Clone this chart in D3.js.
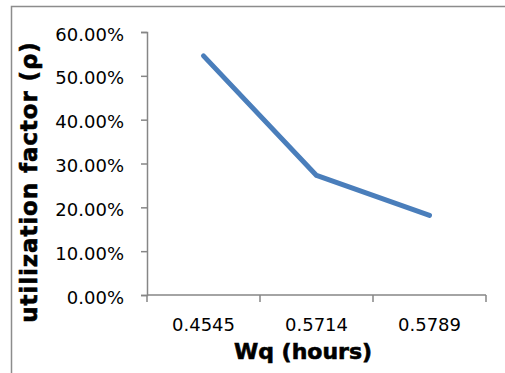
<!DOCTYPE html>
<html>
<head>
<meta charset="utf-8">
<script src="https://cdn.jsdelivr.net/npm/d3@7"></script>
<style>
  body { margin: 0; background: #fff; }
  svg { display: block; }
</style>
</head>
<body>
<div id="holder"></div>
<script>
const w = 505;
const h = 373;

// data
const categories = ["0.4545", "0.5714", "0.5789"];
const utilization = [0.5455, 0.2727, 0.1818];
const yTicks = [0, 0.1, 0.2, 0.3, 0.4, 0.5, 0.6];

const axisColor = "#868686";
const font = "'DejaVu Sans', sans-serif";

const svg = d3.select("#holder")
    .append("svg")
    .attr("width", w)
    .attr("height", h)

// outer chart frame (cut off at right and bottom)
svg.append("rect")
    .attr("x", 11.5)
    .attr("y", 6.5)
    .attr("width", 700)
    .attr("height", 700)
    .attr("fill", "none")
    .attr("stroke", "#8c8c8c")
    .attr("stroke-width", 1.5)

// scales
const x = d3.scaleBand()
    .domain(categories)
    .range([147, 486])
    .padding(0)

const y = d3.scaleLinear()
    .domain([0, 0.6])
    .range([295, 32])

// y axis
const yAxis = d3.axisLeft(y)
    .tickValues(yTicks)
    .tickFormat(d3.format(".2%"))
    .tickSize(6)
    .tickPadding(17)

const gy = svg.append("g")
    .attr("transform", `translate(${147},0)`)
    .call(yAxis)

gy.select(".domain").attr("stroke", axisColor).attr("stroke-width", 1.5)
gy.selectAll(".tick line").attr("stroke", axisColor).attr("stroke-width", 1.5)
gy.selectAll(".tick text")
    .attr("dy", null)
    .attr("y", 8)
    .attr("fill", "#000")
    .style("font-family", font)
    .style("font-size", "18px")

// x axis: labels centered in bands, ticks on band boundaries
const xAxis = d3.axisBottom(x)
    .tickSize(0)
    .tickPadding(0)

const gx = svg.append("g")
    .attr("transform", `translate(0,${295})`)
    .call(xAxis)

gx.select(".domain").remove()
gx.selectAll(".tick text")
    .attr("dy", null)
    .attr("y", 36)
    .attr("fill", "#000")
    .style("font-family", font)
    .style("font-size", "18px")

gx.append("line")
    .attr("x1", x.range()[0])
    .attr("x2", x.range()[1])
    .attr("stroke", axisColor)
    .attr("stroke-width", 1.5)

const boundaries = categories.map(c => x(c)).concat([x.range()[1]])
gx.selectAll(".band-tick")
    .data(boundaries)
    .join("line")
    .attr("class", "band-tick")
    .attr("x1", d => d)
    .attr("x2", d => d)
    .attr("y1", 0)
    .attr("y2", 7)
    .attr("stroke", axisColor)
    .attr("stroke-width", 1.5)

// the line
const line = d3.line()
    .x((d, i) => x(categories[i]) + x.bandwidth() / 2)
    .y(d => y(d))

svg.append("path")
    .datum(utilization)
    .attr("d", line)
    .attr("fill", "none")
    .attr("stroke", "#4a7ebb")
    .attr("stroke-width", 5)
    .attr("stroke-linecap", "round")
    .attr("stroke-linejoin", "round")

// axis titles (a thin stroke makes them as heavy as the original)
svg.append("text")
    .attr("x", 303)
    .attr("y", 359)
    .attr("text-anchor", "middle")
    .attr("stroke", "#000")
    .attr("stroke-width", 0.6)
    .style("font-family", font)
    .style("font-weight", "bold")
    .style("font-size", "22px")
    .text("Wq (hours)")

svg.append("text")
    .attr("transform", `translate(${37},${182}) rotate(-90)`)
    .attr("text-anchor", "middle")
    .attr("stroke", "#000")
    .attr("stroke-width", 0.6)
    .style("font-family", font)
    .style("font-weight", "bold")
    .style("font-size", "23px")
    .style("letter-spacing", "0.9px")
    .text("utilization factor (ρ)")
</script>
</body>
</html>
